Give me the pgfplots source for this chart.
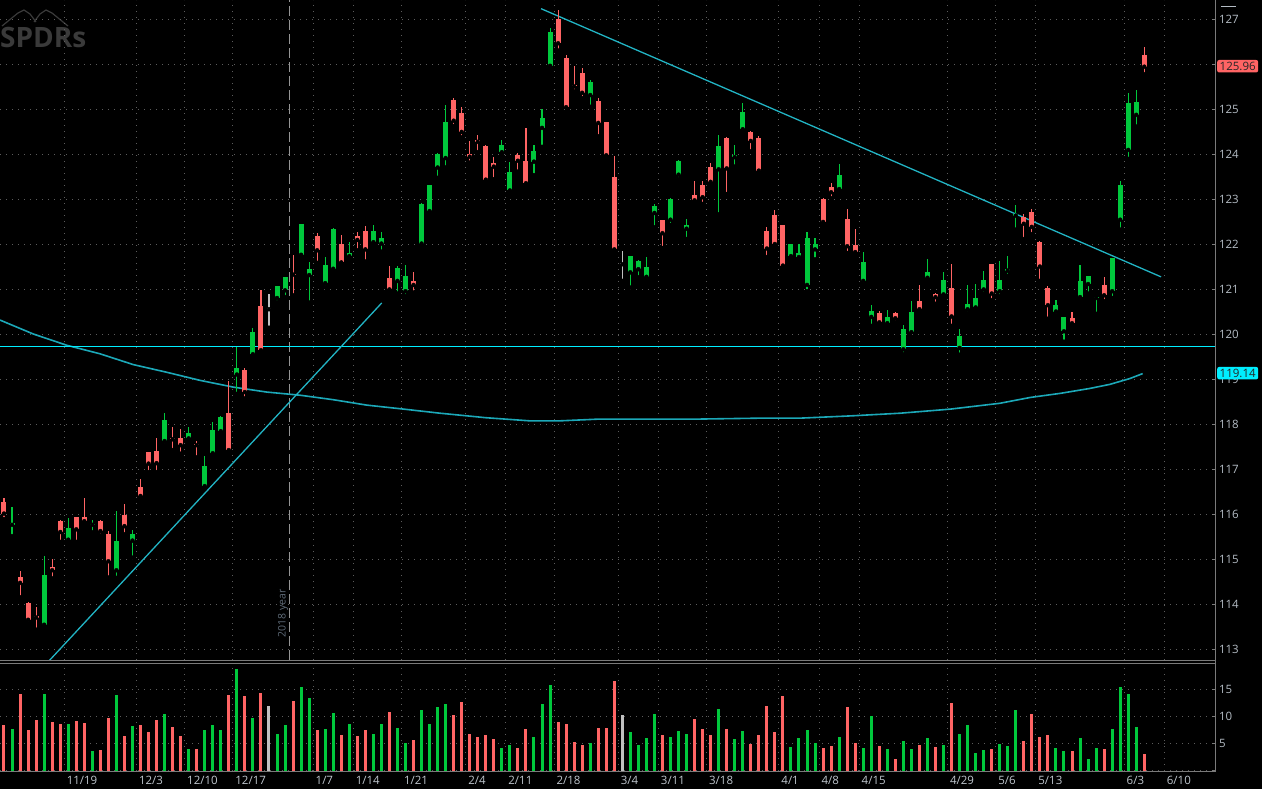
\documentclass[border=0pt]{standalone}
\usepackage{fontspec}
\setmainfont{Open Sans}
\usepackage{pgfplots}
\pgfplotsset{compat=1.18}
\usepackage{pgfplotstable}

\definecolor{upc}{HTML}{00C83C}
\definecolor{dnc}{HTML}{FF6464}
\definecolor{flc}{HTML}{C0C0C0}
\definecolor{gridc}{HTML}{5C5C5C}
\definecolor{axc}{HTML}{7A7A7A}
\definecolor{labc}{HTML}{B4BCC4}
\definecolor{hlinec}{HTML}{00EEFF}
\definecolor{mac}{HTML}{1CA8B8}
\definecolor{trendc}{HTML}{22B4C4}
\definecolor{logoc}{HTML}{3A3A3A}
\definecolor{yearc}{HTML}{5F6B78}

% bar index k, open, high, low, close, volume
\pgfplotstableread{
k o h l c v
1 115.77 116.16 115.52 115.80 7.7
5 113.55 115.08 113.51 114.65 14.1
8 115.44 115.93 115.39 115.69 8.6
11 115.77 115.88 115.60 115.79 3.6
14 114.76 116.08 114.59 115.40 13.9
16 115.42 115.66 115.04 115.56 8.2
20 117.63 118.25 117.54 118.10 10.4
23 117.69 117.95 117.61 117.82 4.0
25 116.63 117.30 116.59 117.08 7.5
26 117.36 118.05 117.35 117.88 8.4
27 117.85 118.19 117.81 118.17 7.5
29 119.11 119.73 118.68 119.26 18.8
31 119.56 120.15 119.56 120.05 9.7
34 120.81 121.07 120.72 121.07 6.8
35 120.98 121.27 120.83 121.27 8.4
37 121.77 122.45 121.74 122.45 15.5
38 121.32 121.61 120.71 121.45 13.3
40 121.14 121.72 121.05 121.55 7.7
41 121.46 122.36 121.43 122.34 10.6
43 121.74 122.06 121.68 121.81 8.6
46 122.05 122.44 122.02 122.30 6.8
47 122.02 122.27 121.84 122.14 8.6
49 121.19 121.53 120.91 121.47 7.8
50 120.96 121.55 120.85 121.29 5.1
52 122.02 122.93 122.02 122.89 11.1
53 122.74 123.31 122.73 123.31 8.6
54 123.71 124.03 123.48 124.00 11.7
55 123.92 125.09 123.71 124.72 12.2
62 124.05 124.33 123.99 124.22 4.2
63 123.20 123.84 123.20 123.62 4.7
66 123.84 124.20 123.54 124.07 6.2
67 124.59 125.02 124.17 124.82 12.2
68 125.97 126.80 125.93 126.72 15.7
73 125.32 125.65 125.06 125.60 5.1
78 121.38 121.75 121.04 121.75 7.1
79 121.45 121.66 121.27 121.64 4.7
80 121.28 121.72 121.20 121.51 6.0
81 122.70 122.90 122.38 122.86 10.4
83 122.55 123.04 122.43 123.00 6.2
84 123.55 123.88 123.45 123.86 7.3
85 122.35 122.56 122.12 122.43 6.8
89 123.67 124.43 122.67 124.18 11.3
91 123.94 124.22 123.73 123.98 5.8
92 124.56 125.14 124.48 124.95 7.3
98 121.74 122.02 121.68 122.00 4.4
99 121.72 122.02 121.68 121.81 6.0
100 121.10 122.27 120.96 122.14 7.5
101 121.89 122.15 121.67 122.00 5.1
104 123.23 123.79 123.19 123.55 6.2
107 121.19 121.84 121.11 121.61 4.2
108 120.39 120.65 120.19 120.53 10.0
110 120.25 120.55 120.17 120.38 4.0
112 119.67 120.22 119.56 120.13 5.5
113 120.05 120.74 120.05 120.49 4.0
115 121.26 121.67 121.22 121.38 6.0
117 120.89 121.38 120.84 121.20 4.7
119 119.70 120.13 119.55 119.96 6.8
120 120.56 121.09 120.47 120.67 8.4
121 120.60 121.13 120.54 120.82 3.3
122 121.00 121.42 120.90 121.22 3.8
124 120.96 121.63 120.85 121.20 4.9
125 121.42 121.74 121.30 121.46 4.6
126 122.64 122.87 122.33 122.68 11.1
131 120.51 120.76 120.43 120.65 4.2
132 120.07 120.38 119.84 120.38 3.6
134 120.83 121.55 120.76 121.18 6.0
135 121.12 121.31 120.91 121.31 2.2
136 120.81 120.84 120.46 120.84 4.2
138 120.96 121.70 120.81 121.70 7.7
139 122.55 123.40 122.33 123.33 15.5
140 124.10 125.36 123.90 125.14 14.2
141 124.88 125.44 124.62 125.16 8.0
}\upbars

\pgfplotstableread{
k o h l c v
0 116.28 116.36 115.90 116.02 8.4
2 114.61 114.74 114.16 114.48 14.2
3 114.04 114.06 113.58 113.66 7.5
4 113.75 113.95 113.44 113.71 9.3
6 114.84 115.01 114.58 114.76 8.9
7 115.85 115.88 115.39 115.61 8.6
9 115.95 115.95 115.39 115.67 9.1
10 115.95 116.36 115.85 115.85 8.8
12 115.85 115.88 115.53 115.63 3.8
13 115.56 115.63 114.60 114.96 9.7
15 115.99 116.24 115.56 115.74 6.4
17 116.62 116.78 116.32 116.41 8.4
18 117.38 117.39 116.94 117.13 7.1
19 117.40 117.69 116.94 117.14 9.3
21 117.71 117.94 117.43 117.67 8.0
22 117.69 117.89 117.35 117.54 6.4
24 117.56 117.64 117.27 117.54 4.0
28 118.25 118.96 117.42 117.43 13.9
30 119.20 119.26 118.58 118.72 13.7
32 120.64 120.98 119.57 119.65 14.4
36 121.35 121.77 120.87 121.33 12.8
39 122.19 122.25 121.59 121.87 7.5
42 122.00 122.20 121.57 121.60 6.6
44 122.19 122.27 121.87 122.10 6.4
45 122.30 122.40 121.62 121.89 7.5
48 121.25 121.52 121.00 121.00 10.9
51 121.18 121.39 120.93 121.10 5.7
56 125.21 125.26 124.63 124.75 10.2
57 124.91 125.06 124.38 124.50 12.6
58 124.00 124.30 123.82 123.95 6.8
59 124.31 124.43 124.05 124.28 6.2
60 124.18 124.20 123.38 123.44 6.6
61 123.82 123.95 123.45 123.73 5.8
64 123.98 124.04 123.62 123.86 4.2
65 123.86 124.59 123.32 123.36 7.7
69 127.02 127.21 126.31 126.47 8.9
70 126.15 126.21 125.05 125.05 8.6
71 125.55 125.96 125.40 125.51 5.3
72 125.81 125.92 125.25 125.37 4.7
74 125.18 125.25 124.40 124.70 7.8
75 124.72 124.72 123.98 123.98 7.8
76 123.50 123.97 121.87 121.89 16.6
82 122.54 122.54 121.92 122.25 6.6
86 123.09 123.40 122.93 122.98 9.5
87 123.31 123.40 122.90 123.05 7.7
88 123.73 123.82 123.35 123.39 6.6
90 124.37 124.38 123.12 123.69 7.7
93 124.50 124.53 124.07 124.30 4.9
94 124.37 124.40 123.58 123.64 6.6
95 122.29 122.38 121.72 121.91 11.9
96 122.66 122.77 122.01 122.01 7.1
97 122.43 122.43 121.48 121.53 13.7
102 123.00 123.04 122.43 122.50 4.2
103 123.27 123.36 123.03 123.16 4.6
105 122.56 122.78 121.81 121.96 11.7
106 121.98 122.34 121.81 121.83 5.1
109 120.47 120.53 120.21 120.27 4.6
111 120.47 120.51 120.27 120.36 2.2
114 120.74 121.11 120.50 120.56 4.7
116 120.89 120.93 120.68 120.83 4.4
118 121.04 121.57 120.19 120.40 12.4
123 121.57 121.57 120.76 120.91 4.0
127 122.60 122.68 122.12 122.46 5.5
128 122.72 122.78 122.23 122.39 10.4
129 122.05 122.08 121.19 121.51 6.2
130 121.04 121.07 120.35 120.65 6.6
133 120.36 120.51 120.19 120.25 3.6
137 121.11 121.27 120.74 120.87 4.0
142 126.21 126.39 125.78 125.95 3.1
}\downbars

\pgfplotstableread{
k o h l c v
33 120.58 120.90 120.15 120.56 11.9
77 121.58 121.86 121.19 121.56 10.2
}\flatbars

\pgfplotsset{
  wick/.style={only marks, mark=none, forget plot,
    error bars/.cd, y dir=plus, y explicit, error mark=none,
    error bar style={draw=#1, line width=1.1pt}},
  body/.style 2 args={only marks, mark=none, forget plot,
    error bars/.cd, y dir=plus, y explicit, error mark=none,
    error bar style={draw=#1, line width=#2}},
  chartbase/.style={
    scale only axis, width=1215pt,
    xmin=-0.498, xmax=150.81,
    axis line style={draw=none},
    xtick={7.5,16.5,22.5,28.5,38.5,43.5,49.5,57.5,62.5,68.5,76.5,81.5,87.5,96.5,101.5,106.5,117.5,123.5,128.5,139.5,144.5},
    xtick style={draw=none},
    ytick pos=right, yticklabel pos=right,
    ytick style={draw=axc, line width=0.8pt},
    major tick length=3pt, tick align=inside,
    grid=major,
    major grid style={draw=gridc, line width=0.9pt, dash pattern=on 0.9pt off 5.1pt},
    tick label style={text=labc, font=\fontsize{11.5}{13}\selectfont},
    yticklabel style={anchor=west, xshift=0.5pt},
    clip mode=individual,
  },
}

\begin{document}
\begin{tikzpicture}[x=1pt,y=1pt]
\fill[black] (0pt,0pt) rectangle (1262pt,-789pt);
\path[use as bounding box] (0pt,0pt) rectangle (1262pt,-789pt);

% faint logo in the corner
\draw[logoc, line width=1.2pt] (2pt,-26pt) -- (18pt,-13pt) -- (24pt,-10pt) -- (30pt,-14pt) -- (36pt,-22pt);
\draw[logoc, line width=1.2pt] (34pt,-22pt) -- (40pt,-14pt) -- (46pt,-10pt) -- (52pt,-13pt) -- (68pt,-26pt);
\node[anchor=base west, inner sep=0, text=logoc, font=\fontsize{28}{28}\selectfont\bfseries] at (0pt,-48pt) {SPDRs};

% price panel
\begin{axis}[chartbase, at={(0pt,0pt)}, anchor=north west, height=660pt,
  ymin=112.766, ymax=127.432,
  ytick={113,114,115,116,117,118,119,120,121,122,123,124,125,126,127},
  yticklabels={113,114,115,116,117,118,119,120,121,122,123,124,125,,127},
  xticklabels={},
  xticklabel style={text opacity=0},
]
\draw[axc!80, line width=1pt, dash pattern=on 10pt off 4pt] (axis cs:35.53,112.766) -- (axis cs:35.53,127.432);
\node[rotate=90, text=yearc, font=\fontsize{10.5}{12}\selectfont, inner sep=0] at (axis cs:34.74,113.80) {2018 year};

\addplot[mac, line width=1.6pt] coordinates {
(-0.50,120.32) (3.65,120.01) (7.81,119.76) (11.96,119.57) (16.10,119.33)
(20.26,119.16) (24.41,118.98) (28.56,118.83) (32.71,118.72) (36.86,118.65)
(41.01,118.55) (45.17,118.43) (49.32,118.35) (54.30,118.25) (60.0,118.15)
(65.5,118.08) (69.2,118.08) (74.2,118.12) (86.7,118.12) (94.1,118.14)
(99.1,118.14) (105.4,118.19) (111.6,118.25) (117.8,118.34) (124.0,118.47)
(127.8,118.60) (131.5,118.69) (135.2,118.80) (137.7,118.89) (140.2,119.02)
(141.8,119.13)};
\addplot[hlinec, line width=1.3pt] coordinates {(-0.5,119.73) (150.81,119.73)};
\addplot[trendc, line width=1.3pt] coordinates {(4.48,112.53) (47.04,120.70)};
\addplot[trendc, line width=1.3pt] coordinates {(66.87,127.24) (144.09,121.28)};

\addplot[wick=upc] table[x=k, y=l, y error expr=\thisrow{h}-\thisrow{l}] {\upbars};
\addplot[body={upc}{5pt}] table[x=k, y=o, y error expr=\thisrow{c}-\thisrow{o}] {\upbars};
\addplot[wick=dnc] table[x=k, y=l, y error expr=\thisrow{h}-\thisrow{l}] {\downbars};
\addplot[body={dnc}{5pt}] table[x=k, y=c, y error expr=\thisrow{o}-\thisrow{c}] {\downbars};
\addplot[wick=flc] table[x=k, y=l, y error expr=\thisrow{h}-\thisrow{l}] {\flatbars};
\addplot[body={flc}{4pt}] table[x=k, y=c, y error expr=\thisrow{o}-\thisrow{c}] {\flatbars};

\node[anchor=west, fill=dnc, text=black!85, rounded corners=2pt, inner xsep=2.5pt, inner ysep=0pt,
  minimum height=12.5pt, font=\fontsize{11.5}{13}\selectfont, xshift=2pt] at (axis cs:150.81,125.96) {125.96};
\node[anchor=west, fill=hlinec, text=black!85, rounded corners=2pt, inner xsep=2.5pt, inner ysep=0pt,
  minimum height=12.5pt, font=\fontsize{11.5}{13}\selectfont, xshift=2pt] at (axis cs:150.81,119.14) {119.14};
\end{axis}

% volume panel
\begin{axis}[chartbase, at={(0pt,-663.5pt)}, anchor=north west, height=107.2pt,
  ymin=0, ymax=19.74,
  ytick={0,5,10,15}, yticklabels={,5,10,15},
  xticklabels={11/19,12/3,12/10,12/17,1/7,1/14,1/21,2/4,2/11,2/18,3/4,3/11,3/18,4/1,4/8,4/15,4/29,5/6,5/13,6/3,6/10},
  xticklabel style={anchor=west, yshift=-10pt, xshift=-1pt, text=labc!85},
]
\addplot[ycomb, upc, line width=3pt, mark=none] table[x=k, y=v] {\upbars};
\addplot[ycomb, dnc, line width=3pt, mark=none] table[x=k, y=v] {\downbars};
\addplot[ycomb, flc, line width=3pt, mark=none] table[x=k, y=v] {\flatbars};
\end{axis}

% panel frames
\draw[axc, line width=1pt] (0pt,-660.5pt) -- (1215.5pt,-660.5pt);
\draw[axc, line width=1pt] (0pt,-663.5pt) -- (1215.5pt,-663.5pt);
\draw[axc, line width=1pt] (0pt,-771pt) -- (1215.5pt,-771pt);
\draw[axc, line width=1pt] (1215.5pt,0pt) -- (1215.5pt,-771pt);
\draw[labc, line width=1pt] (1221pt,-6.5pt) -- (1236pt,-6.5pt);
\end{tikzpicture}
\end{document}
